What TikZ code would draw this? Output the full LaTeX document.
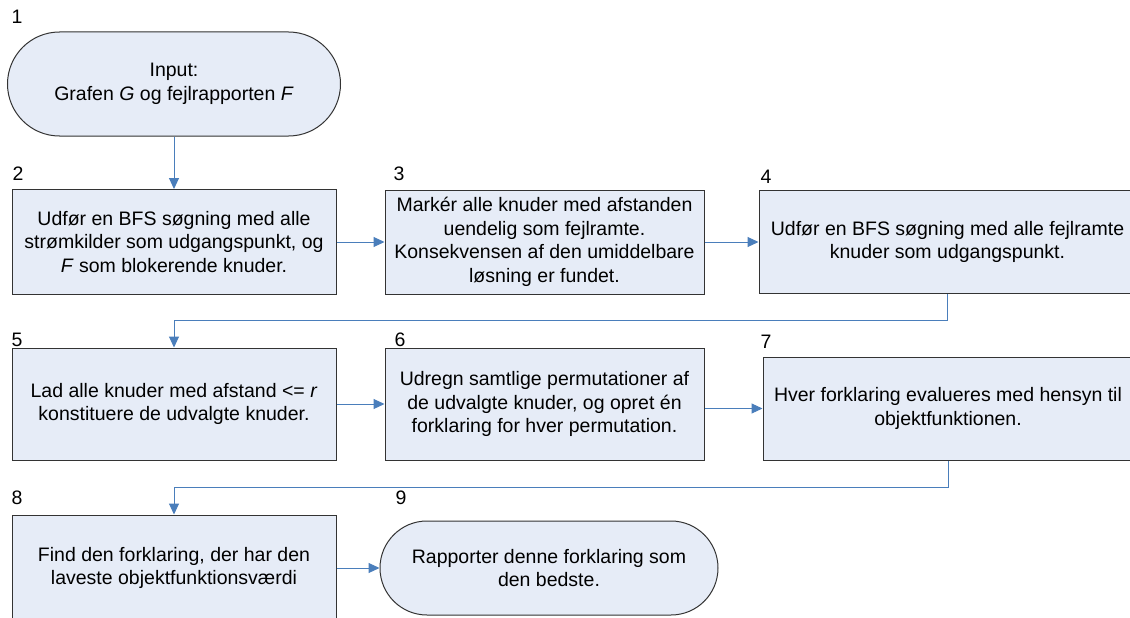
\documentclass[tikz,border=0pt]{standalone}
\usepackage{fontspec}
\setmainfont{Liberation Sans}
\usetikzlibrary{arrows.meta,shapes.misc}
\definecolor{boxfill}{RGB}{230,236,247}
\definecolor{flowblue}{RGB}{74,126,187}
\tikzset{>={Triangle[length=11pt,width=10pt]}}
\tikzset{
  stepbox/.style={draw=black!80,fill=boxfill,line width=1pt,align=center,
    inner sep=0pt,font=\fontsize{19.5}{23.5}\selectfont},
  endbox/.style={stepbox,rounded rectangle},
  flow/.style={->,draw=flowblue,line width=1pt},
  numlbl/.style={inner sep=0pt,font=\fontsize{19.5}{23}\selectfont}
}

\begin{document}
\begin{tikzpicture}[x=1pt,y=-1pt]
\useasboundingbox (0,0) rectangle (1130,618);
\clip (0,0) rectangle (1130,618);
\fill[white] (0,0) rectangle (1130,618);
% steps
\node[endbox,minimum width=333pt,minimum height=104pt] (n1) at (174,84)
  {Input:\\Grafen \textit{G} og fejlrapporten \textit{F}};
\node[stepbox,minimum width=324pt,minimum height=105pt] (n2) at (174,242)
  {Udfør en BFS søgning med alle\\strømkilder som udgangspunkt, og\\\textit{F} som blokerende knuder.};
\node[stepbox,minimum width=319pt,minimum height=104pt] (n3) at (544.5,242)
  {Markér alle knuder med afstanden\\uendelig som fejlramte.\\Konsekvensen af den umiddelbare\\løsning er fundet.};
\node[stepbox,minimum width=377pt,minimum height=103pt] (n4) at (947.5,242)
  {Udfør en BFS søgning med alle fejlramte\\knuder som udgangspunkt.};
\node[stepbox,minimum width=324pt,minimum height=112pt] (n5) at (174,404)
  {Lad alle knuder med afstand <= \textit{r}\\konstituere de udvalgte knuder.};
\node[stepbox,minimum width=319pt,minimum height=112pt] (n6) at (544.5,404)
  {Udregn samtlige permutationer af\\de udvalgte knuder, og opret én\\forklaring for hver permutation.};
\node[stepbox,minimum width=370pt,minimum height=103pt] (n7) at (948,408.5)
  {Hver forklaring evalueres med hensyn til\\objektfunktionen.};
\node[stepbox,minimum width=324pt,minimum height=106pt] (n8) at (174,568)
  {Find den forklaring, der har den\\laveste objektfunktionsværdi};
\node[endbox,minimum width=338pt,minimum height=94pt] (n9) at (549,568)
  {Rapporter denne forklaring som\\den bedste.};
% step numbers
\foreach \n/\x/\y in {1/17/17,2/18/174,3/399/174,4/766/177,5/17/340,
                      6/400/340,7/766/342,8/17/498,9/401/498}
  \node[numlbl] (num\n) at (\x,\y) {\n};
% connectors
\draw[flow] (n1) -- (n2);
\draw[flow] (n2) -- (n3);
\draw[flow] (n3) -- (n4);
\draw[flow] (n4.south) -- ++(0,26) -| (n5.north);
\draw[flow] (n5) -- (n6);
\draw[flow] (n6.east |- n7.west) -- (n7.west);
\draw[flow] (n7.south) -- ++(0,27) -| (n8.north);
\draw[flow] (n8) -- (n9);
\end{tikzpicture}
\end{document}
